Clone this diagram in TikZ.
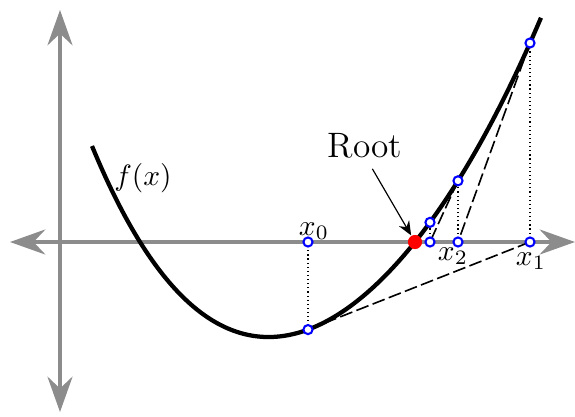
\documentclass[tikz,border=0pt]{standalone}
\usetikzlibrary{arrows.meta,positioning}

\begin{document}
\begin{tikzpicture}[x=0.34pt,y=-0.34pt,>={Stealth[length=4.8pt,width=4pt]},
    declare function={fx(\u) = 242 + (\u-1.4)*(4.15-\u)*(70.19-9.88*\u+0.945*\u*\u);}]
    \tikzstyle{axis}=[line width=1.4pt, black!45, {Stealth[length=12pt,width=8.5pt,inset=4pt]}-{Stealth[length=12pt,width=8.5pt,inset=4pt]}]
    \tikzstyle{pt}=[circle, draw=blue, fill=white, line width=0.7pt, inner sep=0pt, minimum size=3.1pt]
    \tikzstyle{tangent}=[line width=0.55pt, dash pattern=on 4.4pt off 1.5pt]
    \tikzstyle{drop}=[densely dotted, line width=0.4pt]
  \useasboundingbox (0,0) rectangle (575,417);
  % axes
  \coordinate (xl) at (10,242);
  \coordinate (xr) at (575,242);
  \coordinate (yt) at (60,10);
  \coordinate (yb) at (60,412);
  \draw[axis] (xl) -- (xr);
  \draw[axis] (yt) -- (yb);
  % the function
  \draw[line width=1.45pt] plot[domain=0.92:5.41, samples=90, smooth] ({100*\x},{fx(\x)});
  \node (fl) at (143,178) {$f(x)$};
  % iterates: on the axis (a) and on the curve (c)
  \coordinate (a0) at (308,242);
  \coordinate (c0) at (308,{fx(3.08)});
  \coordinate (a1) at (530,242);
  \coordinate (c1) at (530,{fx(5.30)});
  \coordinate (a2) at (458,242);
  \coordinate (c2) at (458,{fx(4.58)});
  \coordinate (a3) at (430,242);
  \coordinate (c3) at (430,{fx(4.30)});
  % tangents and drops
  \draw[tangent] (c0) -- (a1);
  \draw[tangent] (c1) -- (a2);
  \draw[tangent] (c2) -- (a3);
  \draw[drop] (a0) -- (c0);
  \draw[drop] (a1) -- (c1);
  \draw[drop] (a2) -- (c2);
  \draw[drop] (a3) -- (c3);
  \foreach \p in {a0,c0,a1,c1,a2,c2,a3,c3}
    \node[pt] (\p p) at (\p) {};
  % labels
  \node (l0) at (314,231) {$x_0$};
  \node (l1) at (531,261) {$x_1$};
  \node (l2) at (453,256) {$x_2$};
  % the root
  \node[circle, fill=red, inner sep=0pt, minimum size=4.8pt] (rdot) at (415,242) {};
  \node[font=\large] (rt) at (365,146) {Root};
  \draw[->, line width=0.4pt] ([xshift=2.5pt]rt.south) -- (rdot);
\end{tikzpicture}
\end{document}
